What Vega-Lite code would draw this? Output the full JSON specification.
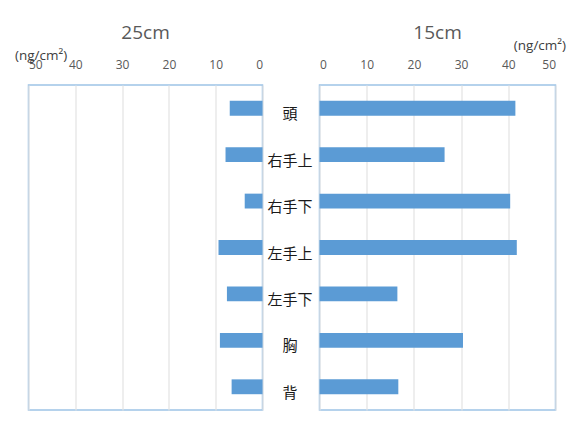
{
  "$schema": "https://vega.github.io/schema/vega-lite/v6.json",
  "background": "white",
  "padding": {"left": 13.5, "top": 23, "right": 5, "bottom": 5},
  "data": {"values": [
    {"part": "頭", "d25": 7.0, "d15": 41.5},
    {"part": "右手上", "d25": 7.9, "d15": 26.5},
    {"part": "右手下", "d25": 3.8, "d15": 40.4},
    {"part": "左手上", "d25": 9.4, "d15": 41.8},
    {"part": "左手下", "d25": 7.6, "d15": 16.5},
    {"part": "胸", "d25": 9.1, "d15": 30.4},
    {"part": "背", "d25": 6.6, "d15": 16.7}
  ]},
  "spacing": 57,
  "bounds": "flush",
  "config": {
    "view": {"stroke": "#9dc3e6", "strokeWidth": 1.5},
    "axis": {
      "labelFont": "Open Sans", "labelFontSize": 12, "labelColor": "#595959",
      "titleFont": "Open Sans", "titleFontSize": 13.5, "titleColor": "#404040", "titleFontWeight": "normal",
      "gridColor": "#e3e3e3", "gridWidth": 1.2, "domain": false, "ticks": false, "tickSize": 0
    },
    "title": {"font": "Open Sans", "fontSize": 19, "color": "#595959", "fontWeight": "normal", "anchor": "middle"}
  },
  "hconcat": [
    {
      "width": 234, "height": 325,
      "title": {"text": "25cm", "offset": 5},
      "mark": {"type": "bar", "color": "#5b9bd5"},
      "encoding": {
        "y": {"field": "part", "type": "nominal", "sort": null,
              "scale": {"paddingInner": 0.68, "paddingOuter": 0.34}, "axis": null},
        "x": {"field": "d25", "type": "quantitative",
              "scale": {"domain": [0, 50], "reverse": true, "nice": false},
              "axis": {"orient": "top", "values": [0, 10, 20, 30, 40, 50], "grid": true,
                       "labelBaseline": "alphabetic", "labelPadding": 17,
                       "title": "(ng/cm²)", "titleX": -14, "titleY": -30,
                       "titleAlign": "left", "titleBaseline": "middle", "titleAngle": 0}}
      }
    },
    {
      "width": 236, "height": 325,
      "title": {"text": "15cm", "offset": -5},
      "mark": {"type": "bar", "color": "#5b9bd5"},
      "encoding": {
        "y": {"field": "part", "type": "nominal", "sort": null,
              "scale": {"paddingInner": 0.68, "paddingOuter": 0.34},
              "axis": {"title": null, "labelAlign": "center", "labelPadding": 30, "labelOffset": 6,
                       "labelBaseline": "middle",
                       "labelFont": "Noto Sans CJK JP", "labelFontSize": 15, "labelColor": "#1a1a1a"}},
        "x": {"field": "d15", "type": "quantitative",
              "scale": {"domain": [0, 50], "nice": false},
              "axis": {"orient": "top", "values": [0, 10, 20, 30, 40, 50], "grid": true,
                       "labelBaseline": "alphabetic", "labelPadding": 17,
                       "title": "(ng/cm²)", "titleX": 246, "titleY": -40,
                       "titleAlign": "right", "titleBaseline": "middle", "titleAngle": 0}}
      }
    }
  ]
}
